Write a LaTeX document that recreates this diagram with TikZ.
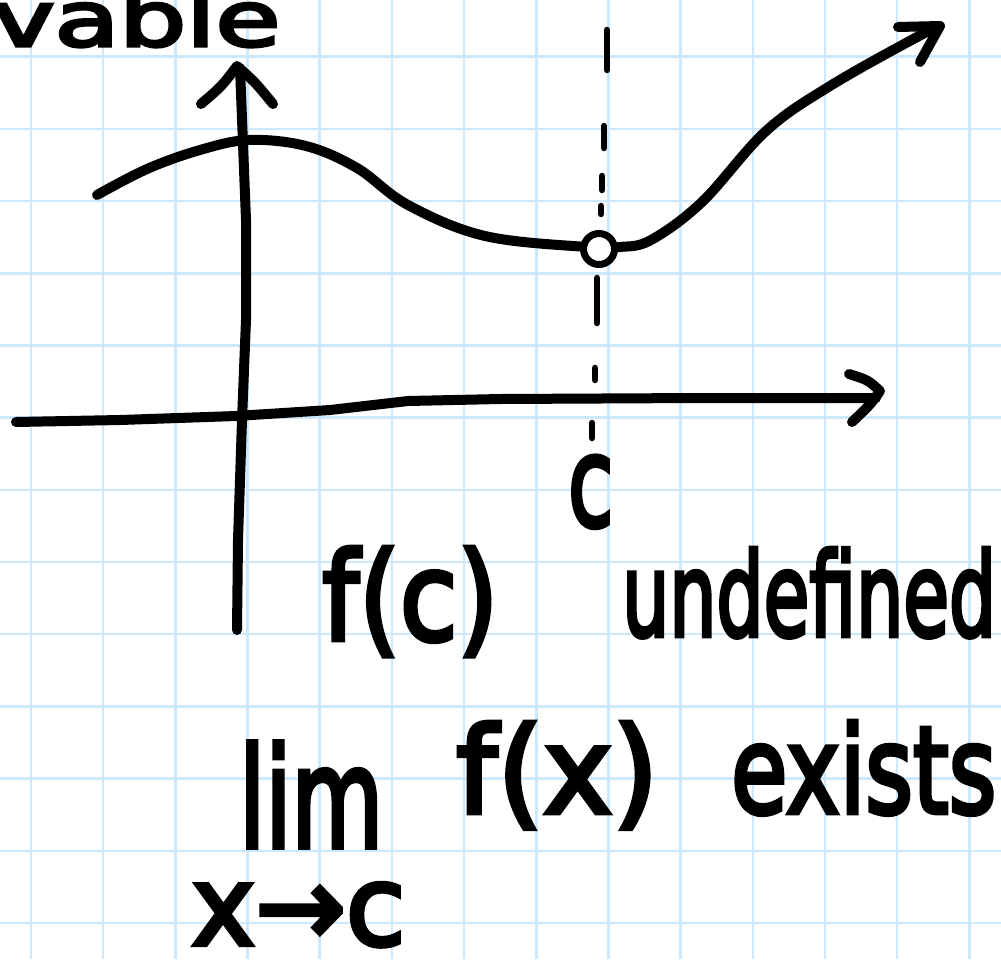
\documentclass[tikz,border=0pt]{standalone}
\usepackage{fontspec}
\setmainfont{DejaVu Sans}
\newfontfamily\hand{DejaVu Sans}[FakeBold=4]
\usepackage{graphicx}
\definecolor{gridblue}{RGB}{204,232,252}
\begin{document}
\begin{tikzpicture}[x=1pt,y=-1pt,
  ink/.style={line width=10pt,line cap=round,line join=round},
  dashstroke/.style={line width=6.5pt,line cap=round},
  gridline/.style={draw=gridblue,line width=2.5pt},
  txt/.style={anchor=base west,inner sep=0pt,font=\hand}]
\useasboundingbox (0,0) rectangle (1001,959);
\clip (0,0) rectangle (1001,959);
\fill[white] (0,0) rectangle (1001,959);
% grid
\foreach \i in {0,...,13} \draw[gridline] ({31+72.18*\i},0) -- ({31+72.18*\i},959);
\foreach \j in {0,...,12} \draw[gridline] (0,{56.7+72.19*\j}) -- (1001,{56.7+72.19*\j});
% dashed guide at c
\foreach \x/\a/\b in {607/30/70, 604/126/148, 602/176/190, 601/206/214, 597/278/323, 595/368/380, 592/423/438}
  \draw[dashstroke] (\x,\a) -- (\x,\b);
% axes
\coordinate (yb) at (237,630);
\coordinate (yt) at (240,68);
\draw[ink] (yb) -- (238,540) -- (242,420) -- (246,320) -- (246,220) -- (yt);
\draw[ink] (201,104) .. controls (222,86) .. (237,66) .. controls (255,82) .. (273,104);
\coordinate (xl) at (16,422);
\coordinate (xr) at (876,398);
\draw[ink] (xl) -- (120,420) -- (236,416) -- (330,410) -- (408,401) -- (500,399) -- (700,398) -- (xr);
\draw[ink] (849,374) .. controls (868,380) .. (880,391) .. controls (870,405) .. (852,422);
% curve
\draw[ink] plot[smooth,tension=0.6] coordinates {(97,195) (147,169) (200,150) (249,140) (306,146) (357,168) (408,205) (485,236) (587,247) (620,247) (651,240) (702,202) (766,131) (830,86) (919,36) (938,28)};
\draw[ink] (898,27) -- (940,26) -- (920,62);
\node[circle,draw=black,fill=white,line width=7pt,minimum size=31pt,inner sep=0pt] (hole) at (599,249) {};
% labels
\node[txt] (top) at (-8,46) {\resizebox{288pt}{58pt}{vable}};
\node[txt] (c) at (568,526) {\resizebox{45pt}{70pt}{c}};
\node[txt] (fc) at (322,640) {\resizebox{176pt}{93pt}{f(c)}};
\node[txt] (undef) at (622,636) {\resizebox{374pt}{88pt}{undefined}};
\node[txt] (lim) at (239,847) {\resizebox{144pt}{105pt}{lim}};
\node[txt] (fx) at (456,813) {\resizebox{202pt}{91pt}{f(x)}};
\node[txt] (ex) at (731,813) {\resizebox{265pt}{92pt}{exists}};
\node[txt] (xc) at (191,945) {\resizebox{214pt}{62pt}{x→c}};
\end{tikzpicture}
\end{document}
